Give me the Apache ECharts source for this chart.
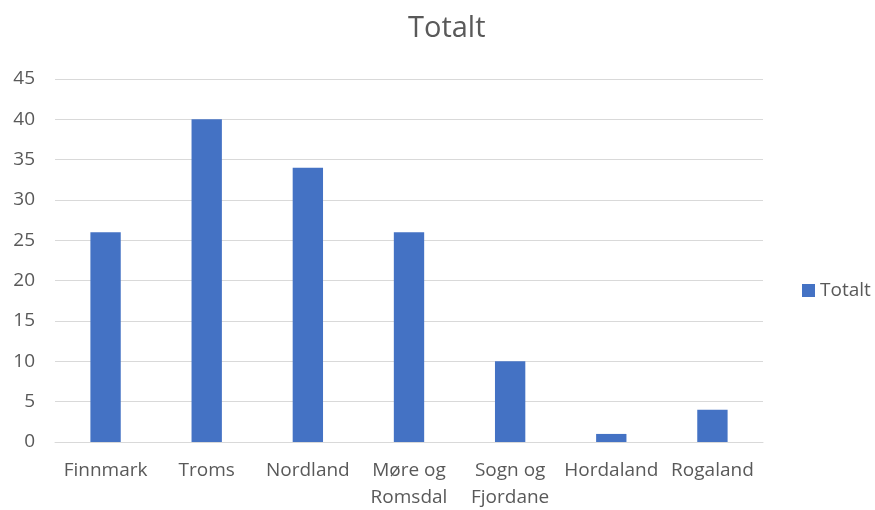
<!DOCTYPE html>
<html>
<head>
<meta charset="utf-8">
<script src="https://cdn.jsdelivr.net/npm/echarts@6/dist/echarts.min.js"></script>
<style>
  html, body { margin: 0; padding: 0; background: #fff; }
  #chart { width: 875px; height: 510px; }
</style>
</head>
<body>
<div id="chart"></div>
<script>
// Counties along the coast and their totals
const categories = ['Finnmark', 'Troms', 'Nordland', 'Møre og\nRomsdal', 'Sogn og\nFjordane', 'Hordaland', 'Rogaland'];
const totals = [26, 40, 34, 26, 10, 1, 4];
const seriesName = 'Totalt';

const font = '"Open Sans", "Noto Sans", sans-serif';
const chart = echarts.init(document.getElementById('chart'));
chart.setOption({
  animation: false,
  title: {
    text: seriesName,
    left: 403,
    top: 9,
    textStyle: { fontFamily: font, fontSize: 29, fontWeight: 'normal', color: '#595959' }
  },
  legend: {
    data: [seriesName],
    orient: 'vertical',
    left: 797,
    top: 276,
    itemWidth: 13,
    itemHeight: 13,
    itemGap: 3,
    icon: 'rect',
    textStyle: { fontFamily: font, fontSize: 19, color: '#595959' }
  },
  grid: { left: 55, right: 112, top: 79, bottom: 68, outerBoundsMode: 'none' },
  xAxis: {
    type: 'category',
    data: categories,
    axisTick: { show: false },
    axisLine: { lineStyle: { color: '#d9d9d9', width: 1 } },
    axisLabel: { interval: 0, fontFamily: font, fontSize: 19, color: '#595959', margin: 15, lineHeight: 27 }
  },
  yAxis: {
    type: 'value',
    min: 0,
    max: 45,
    interval: 5,
    axisLine: { show: false },
    axisTick: { show: false },
    splitLine: { lineStyle: { color: '#d9d9d9', width: 1 } },
    axisLabel: { fontFamily: font, fontSize: 19, color: '#595959', margin: 20 }
  },
  series: [{
    name: seriesName,
    type: 'bar',
    data: totals,
    barWidth: '30%',
    itemStyle: { color: '#4472c4' }
  }]
});
</script>
</body>
</html>
